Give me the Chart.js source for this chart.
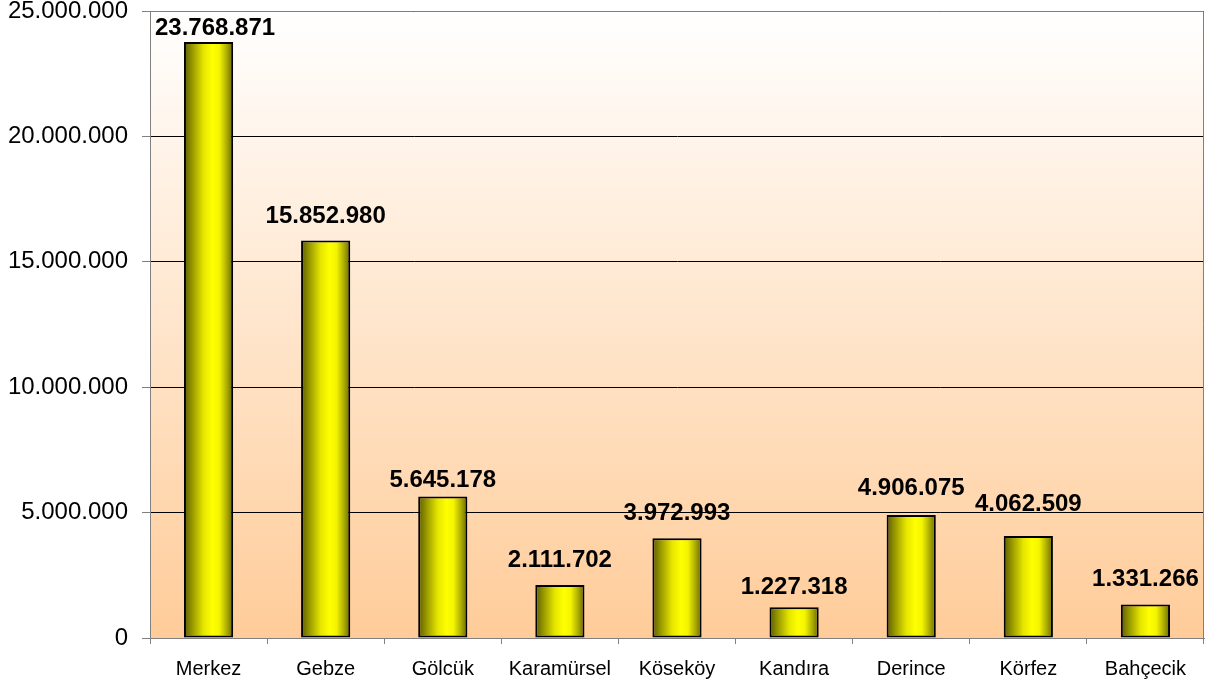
<!DOCTYPE html>
<html>
<head>
<meta charset="utf-8">
<script src="https://cdn.jsdelivr.net/npm/chart.js@4.4.1/dist/chart.umd.min.js"></script>
<style>
  html, body { margin: 0; padding: 0; background: #fff; }
  #wrap { width: 1216px; height: 689px; }
</style>
</head>
<body>
<div id="wrap"><canvas id="c"></canvas></div>
<script>
const districts = ['Merkez', 'Gebze', 'Gölcük', 'Karamürsel', 'Köseköy', 'Kandıra', 'Derince', 'Körfez', 'Bahçecik'];
const values    = [23768871, 15852980, 5645178, 2111702, 3972993, 1227318, 4906075, 4062509, 1331266];
const yTicks    = [0, 5000000, 10000000, 15000000, 20000000, 25000000];

// gap in px between each value label's baseline and its bar top (as placed in the original)
const labelGap  = [7, 17, 9, 18, 18, 13, 20, 25, 19];

const BAR_FRAC = 0.42;
const FONT = '"Liberation Sans", Arial, sans-serif';
const dots = n => Number(n).toLocaleString('de-DE');

// cylinder-like yellow shading across each bar
function barFill(ctx) {
    const chart = ctx.chart;
    const xs = chart.scales && chart.scales.x;
    const a = chart.chartArea;
    if (!xs || !a || ctx.dataIndex == null) return '#ffff00';
    const cx = xs.getPixelForValue(ctx.dataIndex);
    const hw = (a.right - a.left) / districts.length * BAR_FRAC / 2;
    if (!isFinite(cx) || !isFinite(hw)) return '#ffff00';
    const g = chart.ctx.createLinearGradient(cx - hw, 0, cx + hw, 0);
    g.addColorStop(0.00, '#5c5c00');
    g.addColorStop(0.18, '#9c9c00');
    g.addColorStop(0.40, '#e6e600');
    g.addColorStop(0.58, '#ffff00');
    g.addColorStop(0.72, '#f4f400');
    g.addColorStop(0.88, '#a8a800');
    g.addColorStop(1.00, '#666600');
    return g;
}

const plotBg = {
    id: 'plotBg',
    beforeDraw(chart) {
        const { ctx, chartArea: a } = chart;
        const g = ctx.createLinearGradient(0, a.top, 0, a.bottom);
        g.addColorStop(0, '#ffffff');
        g.addColorStop(1, '#ffcc99');
        ctx.save();
        ctx.fillStyle = g;
        ctx.fillRect(a.left, a.top, a.right - a.left, a.bottom - a.top);
        ctx.restore();
    },
    afterDraw(chart) {
        const { ctx, chartArea: a } = chart;
        ctx.save();
        ctx.strokeStyle = '#808080';
        ctx.lineWidth = 1;
        ctx.beginPath();
        ctx.moveTo(a.left + 0.5, a.top + 0.5);
        ctx.lineTo(a.right - 0.5, a.top + 0.5);
        ctx.lineTo(a.right - 0.5, a.bottom);
        ctx.stroke();
        ctx.restore();
    }
};

const valueLabels = {
    id: 'valueLabels',
    afterDatasetsDraw(chart) {
        const ctx = chart.ctx;
        const meta = chart.getDatasetMeta(0);
        const a = chart.chartArea;
        ctx.save();
        ctx.font = 'bold 24px ' + FONT;
        ctx.fillStyle = '#000';
        ctx.textAlign = 'center';
        ctx.textBaseline = 'alphabetic';
        meta.data.forEach((bar, i) => {
            const txt = dots(values[i]);
            const w = ctx.measureText(txt).width;
            let x = bar.x;
            if (x - w / 2 < a.left + 5) x = a.left + 5 + w / 2;
            const y = bar.y - labelGap[i];
            ctx.fillText(txt, x, y);
        });
        ctx.restore();
    }
};

new Chart(document.getElementById('c'), {
    type: 'bar',
    data: {
        labels: districts,
        datasets: [{
            data: values,
            backgroundColor: barFill,
            borderColor: '#000',
            borderWidth: 2,
            borderSkipped: false,
            barPercentage: BAR_FRAC,
            categoryPercentage: 1
        }]
    },
    options: {
        responsive: true,
        maintainAspectRatio: false,
        animation: false,
        layout: { padding: { left: 0, top: 11, right: 12, bottom: 0 } },
        plugins: { legend: { display: false }, tooltip: { enabled: false } },
        scales: {
            x: {
                grid: { display: true, drawOnChartArea: false, drawTicks: true, tickLength: 6, tickColor: '#808080', offset: true },
                border: { color: '#808080' },
                ticks: { color: '#000', font: { family: FONT, size: 20 }, padding: 13, maxRotation: 0, autoSkip: false },
                afterFit: s => { s.height = 51; s.paddingLeft = 0; s.paddingRight = 0; }
            },
            y: {
                min: 0, max: 25000000,
                afterBuildTicks: s => { s.ticks = yTicks.map(v => ({ value: v })); },
                grid: { color: '#000', tickColor: '#808080', tickLength: 8 },
                border: { color: '#808080' },
                ticks: { color: '#000', font: { family: FONT, size: 24 }, padding: 14, callback: v => dots(v) },
                afterFit: s => { s.width = 150; s.paddingTop = 0; s.paddingBottom = 0; }
            }
        }
    },
    plugins: [plotBg, valueLabels]
});
</script>
</body>
</html>
